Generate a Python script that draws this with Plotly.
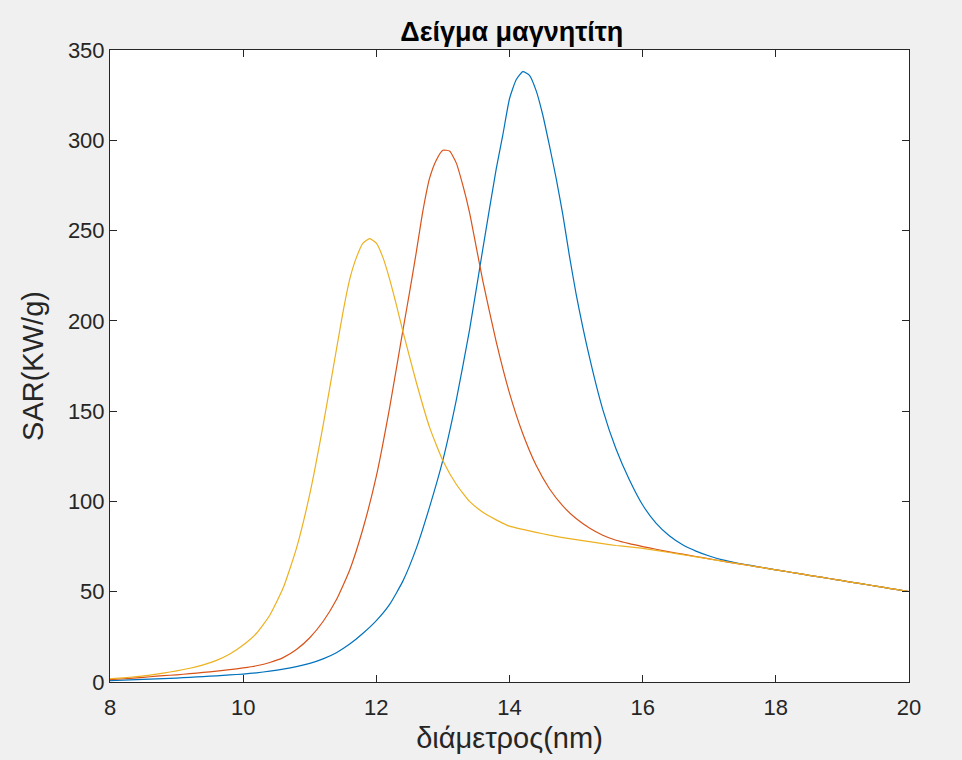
import plotly.graph_objects as go

# Particle diameter (nm) and SAR (kW/g) for three magnetite samples
d_blue = [8.0, 8.2, 8.4, 8.6, 8.8, 9.0, 9.2, 9.4, 9.6, 9.8,
          10.0, 10.2, 10.4, 10.6, 10.8, 11.0, 11.2, 11.4, 11.6, 11.8,
          12.0, 12.2, 12.4, 12.6, 12.8, 13.0, 13.2, 13.4, 13.6, 13.8,
          13.9, 14.0, 14.1, 14.2, 14.3, 14.4, 14.5, 14.6, 14.7, 14.8,
          14.9, 15.0, 15.2, 15.4, 15.6, 15.8, 16.0, 16.2, 16.4, 16.6,
          16.8, 17.0, 17.2, 17.4, 17.6, 17.8, 18.0, 18.2, 18.4, 18.6,
          18.8, 19.0, 19.2, 19.4, 19.6, 19.8, 20.0]
sar_blue = [0.8, 1.0, 1.3, 1.6, 1.9, 2.2, 2.6, 3.0, 3.4, 3.9,
            4.4, 5.1, 6.0, 7.1, 8.5, 10.3, 12.8, 16.2, 21.0, 27.0,
            34.0, 43.0, 56.0, 74.0, 97.0, 123.0, 156.0, 195.0, 240.0, 284.0,
            303.0, 323.0, 333.5, 338.0, 336.0, 327.5, 314.0, 297.0, 279.0, 259.0,
            236.0, 215.0, 180.0, 151.0, 129.0, 112.0, 98.0, 88.0, 81.0, 76.0,
            72.5, 69.8, 67.6, 66.0, 64.7, 63.4, 62.1, 60.9, 59.7, 58.5,
            57.3, 56.1, 54.9, 53.7, 52.5, 51.3, 50.1]

d_red = [8.0, 8.2, 8.4, 8.6, 8.8, 9.0, 9.2, 9.4, 9.6, 9.8,
         10.0, 10.2, 10.4, 10.6, 10.8, 11.0, 11.2, 11.4, 11.6, 11.8,
         12.0, 12.2, 12.4, 12.5, 12.6, 12.7, 12.8, 12.9, 13.0, 13.1,
         13.2, 13.3, 13.4, 13.5, 13.6, 13.8, 14.0, 14.2, 14.4, 14.6,
         14.8, 15.0, 15.2, 15.4, 15.6, 15.8, 16.0, 16.2, 16.4, 16.6,
         16.8, 17.0, 17.2, 17.4, 17.6, 17.8, 18.0, 18.2, 18.4, 18.6,
         18.8, 19.0, 19.2, 19.4, 19.6, 19.8, 20.0]
sar_red = [1.3, 1.8, 2.3, 2.9, 3.5, 4.0, 4.6, 5.3, 6.0, 6.8,
           7.8, 9.0, 10.8, 13.5, 18.0, 24.5, 33.5, 45.5, 62.0, 85.0,
           114.0, 152.0, 195.0, 216.0, 238.0, 261.0, 279.0, 289.0, 294.5, 294.0,
           287.5, 275.0, 260.0, 241.0, 222.0, 188.5, 160.0, 137.5, 120.0, 107.0,
           97.5, 90.5, 85.3, 81.3, 78.5, 76.6, 75.0, 73.5, 72.1, 70.8,
           69.5, 68.2, 66.9, 65.7, 64.5, 63.3, 62.1, 60.9, 59.7, 58.5,
           57.3, 56.1, 54.9, 53.7, 52.5, 51.3, 50.1]

d_yellow = [8.0, 8.2, 8.4, 8.6, 8.8, 9.0, 9.2, 9.4, 9.6, 9.8,
            10.0, 10.2, 10.4, 10.6, 10.8, 11.0, 11.2, 11.4, 11.5, 11.6,
            11.7, 11.8, 11.9, 12.0, 12.1, 12.2, 12.3, 12.4, 12.6, 12.8,
            13.0, 13.2, 13.4, 13.6, 13.8, 14.0, 14.2, 14.4, 14.6, 14.8,
            15.0, 15.2, 15.4, 15.6, 15.8, 16.0, 16.2, 16.4, 16.6, 16.8,
            17.0, 17.2, 17.4, 17.6, 17.8, 18.0, 18.2, 18.4, 18.6, 18.8,
            19.0, 19.2, 19.4, 19.6, 19.8, 20.0]
sar_yellow = [1.8, 2.3, 3.0, 3.8, 4.9, 6.2, 7.6, 9.5, 12.0, 15.5,
              20.5, 27.0, 37.0, 52.0, 74.0, 104.0, 142.0, 184.0, 205.0, 223.0,
              235.0, 243.0, 245.5, 243.0, 235.0, 223.0, 209.0, 194.0, 166.0, 141.0,
              122.5, 109.5, 100.0, 94.0, 89.8, 86.3, 84.5, 82.9, 81.3, 80.0,
              78.8, 77.7, 76.6, 75.6, 74.8, 74.0, 72.9, 71.7, 70.5, 69.3,
              68.1, 66.9, 65.7, 64.5, 63.3, 62.1, 60.9, 59.7, 58.5, 57.3,
              56.1, 54.9, 53.7, 52.5, 51.3, 50.1]

x_ticks = [8, 10, 12, 14, 16, 18, 20]
y_ticks = [0, 50, 100, 150, 200, 250, 300, 350]

title_text = "Δείγμα μαγνητίτη"
x_label = "διάμετρος(nm)"
y_label = "SAR(KW/g)"

series = [
    (d_blue, sar_blue, "#0072BD"),
    (d_red, sar_red, "#D95319"),
    (d_yellow, sar_yellow, "#EDB120"),
]

fig = go.Figure()
for xs, ys, col in series:
    fig.add_trace(go.Scatter(
        x=xs, y=ys, mode="lines",
        line=dict(color=col, width=1.2, shape="spline", smoothing=0.5),
        showlegend=False, hoverinfo="skip",
    ))

font_family = "Liberation Sans, Arial, sans-serif"
axis_common = dict(
    showline=True, linecolor="#262626", linewidth=1, mirror="ticks",
    ticks="inside", ticklen=7, tickwidth=1, tickcolor="#262626",
    showgrid=False, zeroline=False,
    tickfont=dict(family=font_family, size=22, color="#262626"),
)

fig.update_layout(
    width=962, height=760,
    paper_bgcolor="#f0f0f0", plot_bgcolor="#ffffff",
    margin=dict(l=110, r=53, t=50, b=78),
    title=dict(
        text="<b>" + title_text + "</b>",
        x=0.532, xanchor="center", y=1 - 32 / 760, yanchor="middle",
        yref="container",
        font=dict(family=font_family, size=27, color="#000000"),
    ),
    xaxis=dict(
        range=[8, 20], tickvals=x_ticks, ticklabelstandoff=6,
        title=dict(text=x_label, standoff=8,
                   font=dict(family=font_family, size=29, color="#262626")),
        **axis_common,
    ),
    yaxis=dict(
        range=[0, 350], tickvals=y_ticks,
        title=dict(text=y_label, standoff=15,
                   font=dict(family=font_family, size=29, color="#262626")),
        **axis_common,
    ),
)

fig.write_html("out.html")
